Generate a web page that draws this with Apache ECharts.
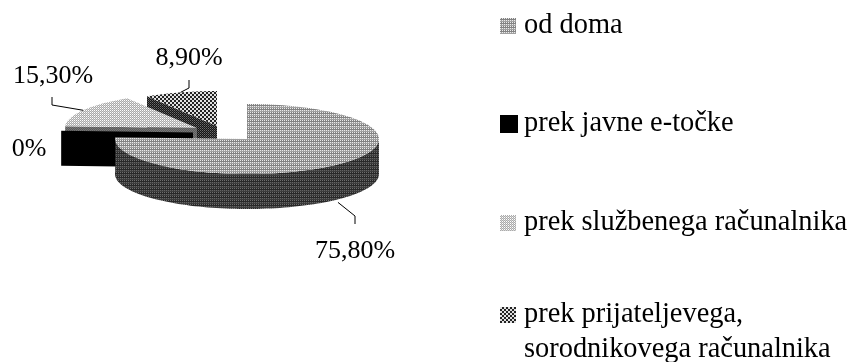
<!DOCTYPE html>
<html>
<head>
<meta charset="utf-8">
<style>html,body{margin:0;padding:0;background:#fff}#chart{width:851px;height:362px}</style>
<script src="https://cdn.jsdelivr.net/npm/echarts@6/dist/echarts.min.js"></script>
</head>
<body>
<div id="chart"></div>
<script>
// Survey shares: where respondents use the internet from
const categories = ['od doma', 'prek javne e-točke', 'prek službenega računalnika', 'prek prijateljevega,\nsorodnikovega računalnika'];
const shares = [75.8, 0, 15.3, 8.9];
const shareLabels = ['75,80%', '0%', '15,30%', '8,90%'];

// Exploded centres of the tilted disc, one per slice
const centres = [[247, 139], [193, 132.5], [197, 128], [217, 126]];
const RX = 132, RY = 35, DEPTH = 35;
const FONT = '"Liberation Serif", "Times New Roman", serif';

// Small repeating halftone tiles
function tile(rows) {
  const c = document.createElement('canvas');
  c.height = rows.length; c.width = rows[0].length;
  const ctx = c.getContext('2d');
  rows.forEach((r, y) => r.forEach((v, x) => {
    ctx.fillStyle = 'rgb(' + v + ',' + v + ',' + v + ')';
    ctx.fillRect(x, y, 1, 1);
  }));
  return { image: c, repeat: 'repeat' };
}
const tops = [
  tile([[235, 130], [130, 130], [235, 160], [160, 160]]),
  '#000',
  tile([[255, 170], [170, 210]]),
  tile([[225, 225, 35, 35], [225, 225, 35, 35], [35, 35, 225, 225], [35, 35, 225, 225]])
];
const sides = [
  tile([[110, 40], [40, 40], [100, 60], [60, 60]]),
  '#000',
  tile([[120, 90], [90, 120]]),
  tile([[110, 20], [20, 70]])
];

function rim(cx, cy, deg, dy) {
  const a = deg * Math.PI / 180;
  return [cx + RX * Math.sin(a), cy - RY * Math.cos(a) + (dy || 0)];
}
function arc(cx, cy, from, to, dy) {
  const pts = [], n = Math.max(2, Math.ceil(Math.abs(to - from) / 2));
  for (let i = 0; i <= n; i++) pts.push(rim(cx, cy, from + (to - from) * i / n, dy));
  return pts;
}

let running = 0;
const spans = shares.map(v => { const s = [running, running + v * 3.6]; running = s[1]; return s; });

function poly(points, fill) {
  return { type: 'polygon', shape: { points }, style: { fill } };
}

function renderSlice(i) {
  const [cx, cy] = centres[i];
  const [a0, a1] = spans[i];
  const kids = [];
  // Cut face along the leading edge, turned towards the viewer
  if (i !== 0) {
    const e = rim(cx, cy, a0);
    kids.push(poly([[cx, cy], e, [e[0], e[1] + DEPTH], [cx, cy + DEPTH]], sides[i]));
  }
  // Outer wall of the part of the rim on the near side
  const nearFrom = Math.max(a0, 90), nearTo = Math.min(a1, 273);
  if (nearTo > nearFrom) {
    const up = arc(cx, cy, nearFrom, nearTo, 0);
    const down = arc(cx, cy, nearTo, nearFrom, DEPTH);
    kids.push(poly(up.concat(down), sides[i]));
  }
  // Top surface
  if (a1 > a0) kids.push(poly([[cx, cy]].concat(arc(cx, cy, a0, a1)), tops[i]));
  return { type: 'group', children: kids };
}

const labelSpots = [[355, 251], [29, 149], [53, 76], [189, 58]];
const elbows = [[[355, 216], [355, 224]], null, [[52, 105], [52, 97]], [[189, 88], [189, 80]]];

function renderCallouts() {
  const kids = [];
  shares.forEach((v, i) => {
    kids.push({
      type: 'text',
      style: { text: shareLabels[i], x: labelSpots[i][0], y: labelSpots[i][1], fill: '#000',
        font: '26px ' + FONT, align: 'center', verticalAlign: 'middle' }
    });
    if (!elbows[i]) return;
    const mid = (spans[i][0] + spans[i][1]) / 2;
    const nearSide = mid > 90 && mid < 270;
    const start = rim(centres[i][0], centres[i][1], mid, nearSide ? DEPTH + 3 : 0);
    kids.push({
      type: 'polyline',
      shape: { points: [start].concat(elbows[i]) },
      style: { stroke: '#000', lineWidth: 1, fill: null }
    });
  });
  return { type: 'group', children: kids };
}

// Draw back to front: friend's slice, work slice, public point, home
const drawOrder = [3, 2, 1, 0];
const series = drawOrder.map(i => ({
  type: 'custom',
  name: categories[i],
  coordinateSystem: 'none',
  silent: true,
  z: 2,
  itemStyle: { color: tops[i] },
  data: [shares[i]],
  renderItem: () => renderSlice(i)
}));
series.push({
  type: 'custom', name: 'oznake', coordinateSystem: 'none', silent: true, z: 3,
  data: [0], renderItem: renderCallouts
});

const legendSpots = [[500, 12, 16], [500, 110, 18], [500, 209, 16], [500, 301, 16]];
const legend = categories.map((name, i) => ({
  left: legendSpots[i][0],
  top: legendSpots[i][1],
  padding: 0,
  data: [{ name, icon: 'rect', itemStyle: { color: tops[i] } }],
  orient: 'vertical',
  selectedMode: false,
  itemWidth: legendSpots[i][2],
  itemHeight: legendSpots[i][2],
  formatter: n => n.split('\n')[0],
  textStyle: { fontFamily: FONT, fontSize: 28.4, color: '#000', padding: [0, 0, 0, 24 - legendSpots[i][2] - 5] }
}));

const chart = echarts.init(document.getElementById('chart'), null, { renderer: 'canvas' });
chart.setOption({
  animation: false,
  backgroundColor: '#fff',
  legend,
  series,
  graphic: [{
    type: 'text', left: 524, top: 336,
    style: { text: categories[3].split('\n')[1], fill: '#000', font: '28.4px ' + FONT }
  }]
});
</script>
</body>
</html>
